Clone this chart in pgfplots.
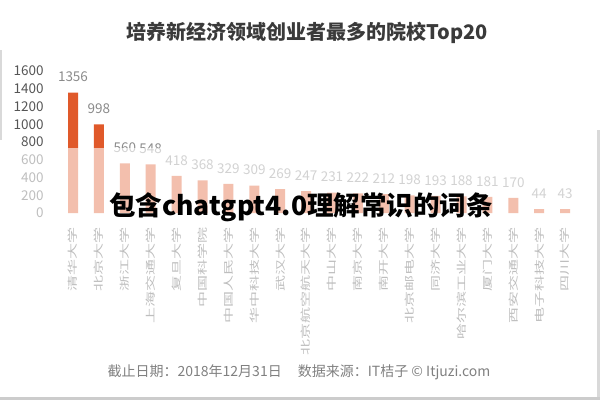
\documentclass[border=0pt]{standalone}
\usepackage{fontspec}
\setmainfont{Noto Sans CJK SC}
\usepackage{graphicx}
\usepackage{pgfplots}
\pgfplotsset{compat=1.18}
\definecolor{barorange}{HTML}{E0592A}
\definecolor{tickgray}{HTML}{555555}
\definecolor{valgray}{HTML}{8A8A8A}
\definecolor{titlegray}{HTML}{3A3A3A}
\newcommand{\Lb}[1]{\scalebox{1.6}[1]{#1}}
\begin{document}
\begin{tikzpicture}[x=1pt,y=1pt]
\path[use as bounding box] (0,0) rectangle (600,400);
\begin{axis}[
  at={(47.1pt,187pt)}, anchor=south west,
  scale only axis, width=543.9pt, height=142pt,
  xmin=-1, xmax=20, ymin=0, ymax=1600,
  axis line style={draw=none},
  major tick length=0pt,
  ytick={0,200,...,1600},
  yticklabel style={font=\fontsize{13.5}{15}\selectfont, text=tickgray},
  /pgf/number format/assume math mode=true,
  /pgf/number format/1000 sep={},
  xtick={0,...,19},
  xticklabels={\Lb{清华大学},\Lb{北京大学},\Lb{浙江大学},\Lb{上海交通大学},\Lb{复旦大学},\Lb{中国科学院},\Lb{中国人民大学},\Lb{华中科技大学},\Lb{武汉大学},\Lb{北京航空航天大学},\Lb{中山大学},\Lb{南京大学},\Lb{南开大学},\Lb{北京邮电大学},\Lb{同济大学},\Lb{哈尔滨工业大学},\Lb{厦门大学},\Lb{西安交通大学},\Lb{电子科技大学},\Lb{四川大学}},
  xticklabel style={rotate=90, anchor=east, font=\fontsize{10}{12}\selectfont, text=tickgray},
  xticklabel shift=11pt,
  ybar, bar width=10pt,
  nodes near coords,
  nodes near coords style={font=\fontsize{13.5}{15}\selectfont, text=valgray, anchor=south, yshift=7pt},
  clip=false,
]
\addplot[fill=barorange, draw=none] coordinates {
(0,1356) (1,998) (2,560) (3,548) (4,418) (5,368) (6,329) (7,309) (8,269) (9,247)
(10,231) (11,222) (12,212) (13,198) (14,193) (15,188) (16,181) (17,170) (18,44) (19,43)};
\end{axis}
\fill[white, opacity=0.62] (0,45) rectangle (600,252);
\node[font=\fontsize{20}{24}\selectfont\bfseries, text=titlegray] at (307.5,367) {培养新经济领域创业者最多的院校Top20};
\node[font=\fontsize{14}{16}\selectfont, text=gray] at (299,28) {截止日期：2018年12月31日\hspace{16pt}数据来源：IT桔子 © Itjuzi.com};
\node[font=\fontsize{26.5}{30}\selectfont\bfseries, text=black] at (301,193) {包含chatgpt4.0理解常识的词条};
\fill[gray!40] (0,0) rectangle (600,3);
\fill[gray!30] (597,3) rectangle (600,270);
\fill[gray!30] (0,260) rectangle (2,350);
\end{tikzpicture}
\end{document}
